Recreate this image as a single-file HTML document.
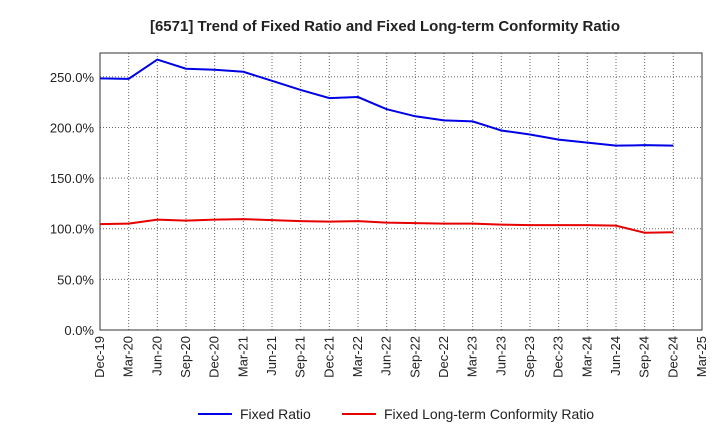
<!DOCTYPE html>
<html><head><meta charset="utf-8"><style>
body{margin:0;background:#fff;font-family:"Liberation Sans",sans-serif;}
svg text{font-family:"Liberation Sans",sans-serif;}
</style></head><body>
<svg id="chart" width="720" height="440">
<text x="385" y="31" text-anchor="middle" font-size="15" font-weight="bold" fill="#222">[6571]  Trend of Fixed Ratio and Fixed Long-term Conformity Ratio</text>
<g id="grid"></g><g id="axes"></g><g id="series"></g>
<g>
<line x1="198" y1="414" x2="232" y2="414" stroke="#0000e6" stroke-width="2"/>
<text x="240" y="419" font-size="14" fill="#222">Fixed Ratio</text>
<line x1="342" y1="414" x2="376" y2="414" stroke="#e60000" stroke-width="2"/>
<text x="384" y="419" font-size="14" fill="#222">Fixed Long-term Conformity Ratio</text>
</g>
</svg>
<script>
const xLabels=["Dec-19","Mar-20","Jun-20","Sep-20","Dec-20","Mar-21","Jun-21","Sep-21","Dec-21","Mar-22","Jun-22","Sep-22","Dec-22","Mar-23","Jun-23","Sep-23","Dec-23","Mar-24","Jun-24","Sep-24","Dec-24","Mar-25"];
const yTicks=[0,50,100,150,200,250];
const fixedRatio=[248.5,248,267,258,257,255,246,237,229,230,218,211,207,206,197,193,188,185,182,182.5,182];
const conformityRatio=[104.5,105,109,108,109,109.5,108.5,107.5,107,107.5,106,105.5,105,105,104,103.5,103.5,103.5,103,96,96.5];
const L=100,R=702,T=53,B=330,yMax=273.5;
const xs=i=>L+i*(R-L)/(xLabels.length-1);
const ys=v=>B-v/yMax*(B-T);
const NS="http://www.w3.org/2000/svg";
function mk(t,a,p){const e=document.createElementNS(NS,t);for(const k in a)e.setAttribute(k,a[k]);p.appendChild(e);return e;}
const g=document.getElementById('grid'),ax=document.getElementById('axes'),s=document.getElementById('series');
xLabels.forEach((l,i)=>{const x=xs(i);
 const gl=mk('line',{x1:x,y1:T,x2:x,y2:B,stroke:'#666','stroke-dasharray':'1,2'},g);
 
 const t=mk('text',{x:x+4,y:B+6,'font-size':13,fill:'#222','text-anchor':'end',transform:`rotate(-90 ${x+4} ${B+6})`},ax);
 t.textContent=l;
 });
yTicks.forEach(v=>{const y=ys(v);
 const gl=mk('line',{x1:L,y1:y,x2:R,y2:y,stroke:'#666','stroke-dasharray':'1,2'},g);
 
 const t=mk('text',{x:L-6,y:y+5,'font-size':13,fill:'#222','text-anchor':'end'},ax);
 t.textContent=v.toFixed(1)+'%';
 });
const fr=mk('rect',{x:L,y:T,width:R-L,height:B-T,fill:'none',stroke:'#333'},ax);

function line(d,c,n){const p=mk('polyline',{points:d.map((v,i)=>xs(i)+','+ys(v)).join(' '),fill:'none',stroke:c,'stroke-width':2},s);
 }
line(fixedRatio,'#0000e6','fixed-ratio-line');
line(conformityRatio,'#e60000','conformity-ratio-line');
</script>
</body></html>
